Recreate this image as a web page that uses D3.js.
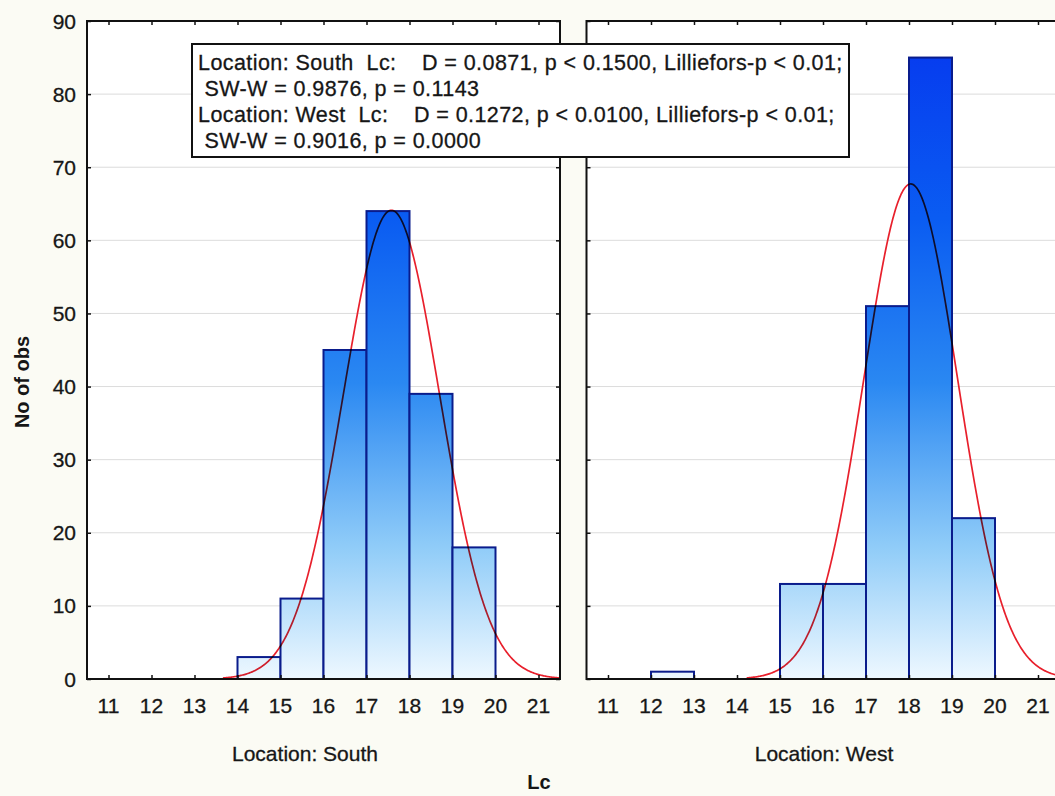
<!DOCTYPE html>
<html>
<head>
<meta charset="utf-8">
<script src="https://cdn.jsdelivr.net/npm/d3@7"></script>
<style>
  html, body { margin: 0; padding: 0; background: #fbfbf4; }
  svg { display: block; }
  text { font-family: "Liberation Sans", Arial, sans-serif; fill: #161616; }
  text.reg { stroke: #161616; stroke-width: 0.3; }
</style>
</head>
<body>
<svg id="chart" width="1055" height="796"></svg>
<script>
// Histogram bins (lower edge of each 1-unit Lc class)
const binStarts = [11, 12, 13, 14, 15, 16, 17, 18, 19, 20];
const southCounts = [0, 0, 0, 3, 11, 45, 64, 39, 18, 0];
const westCounts  = [0, 1, 0, 0, 13, 13, 51, 85, 22, 0];

// Fitted normal curves: mean, standard deviation, number of observations
const fitMean = [17.58, 18.04];
const fitSd   = [1.12, 1.09];
const fitN    = [180, 185];

const panelNames = ["Location: South", "Location: West"];
const xTicks = [11, 12, 13, 14, 15, 16, 17, 18, 19, 20, 21];
const yTicks = [0, 10, 20, 30, 40, 50, 60, 70, 80, 90];

const statLines = [
  "Location: South  Lc:    D = 0.0871, p < 0.1500, Lilliefors-p < 0.01;",
  " SW-W = 0.9876, p = 0.1143",
  "Location: West  Lc:    D = 0.1272, p < 0.0100, Lilliefors-p < 0.01;",
  " SW-W = 0.9016, p = 0.0000"
];

const svg = d3.select("#chart");
const plotTop = 21, plotBottom = 679, panelW = 473;
const panelX = [87, 586.5];
const captionX = [305, 824];
const labelSize = 21;

const y = d3.scaleLinear().domain([0, 90]).range([plotBottom, plotTop]);

// vertical gradient shared by all bars (depends on height in the plot, not on the bar)
const defs = svg.append("defs");
const grad = defs.append("linearGradient")
  .attr("id", "barGrad").attr("gradientUnits", "userSpaceOnUse")
  .attr("x1", 0).attr("x2", 0).attr("y1", y(90)).attr("y2", y(0));
[[0, "#0636ee"], [0.3, "#0a5cf2"], [0.55, "#2a88f2"], [0.8, "#90ccf8"], [1, "#eef8ff"]]
  .forEach(([o, c]) => grad.append("stop").attr("offset", o).attr("stop-color", c));

const series = [southCounts, westCounts];

panelX.forEach((px, i) => {
  const x = d3.scaleLinear().domain([10.5, 21.5]).range([px, px + panelW]);
  const g = svg.append("g");

  defs.append("clipPath").attr("id", "clip" + i)
    .append("rect").attr("x", px).attr("y", plotTop).attr("width", panelW).attr("height", plotBottom - plotTop);

  // plot background
  g.append("rect").attr("x", px).attr("y", plotTop).attr("width", panelW).attr("height", plotBottom - plotTop)
    .attr("fill", "#ffffff");

  // horizontal grid
  g.append("g").selectAll("line").data(yTicks.filter(t => t > 0 && t < 90)).join("line")
    .attr("x1", px).attr("x2", px + panelW)
    .attr("y1", d => y(d)).attr("y2", d => y(d))
    .attr("stroke", "#dcdcdc").attr("stroke-width", 1);

  const inner = g.append("g").attr("clip-path", `url(#clip${i})`);

  // bars
  const bins = binStarts.map((b, k) => ({ x0: b, x1: b + 1, v: series[i][k] })).filter(d => d.v > 0);
  inner.selectAll("rect.bar").data(bins).join("rect")
    .attr("class", "bar")
    .attr("x", d => x(d.x0)).attr("width", d => x(d.x1) - x(d.x0))
    .attr("y", d => y(d.v)).attr("height", d => y(0) - y(d.v))
    .attr("fill", "url(#barGrad)")
    .attr("stroke", "#0a1c8c").attr("stroke-width", 2);

  // expected normal counts per unit-width class
  const m = fitMean[i], s = fitSd[i], n = fitN[i];
  const pdf = v => n / (s * Math.sqrt(2 * Math.PI)) * Math.exp(-((v - m) ** 2) / (2 * s * s));
  const xs = d3.range(m - 3.5 * s, m + 3.5 * s + 0.001, 0.02);
  inner.append("path")
    .datum(xs)
    .attr("d", d3.line().x(v => x(v)).y(v => y(pdf(v))))
    .attr("fill", "none").attr("stroke", "#e8202c").attr("stroke-width", 1.7)
    .style("mix-blend-mode", "multiply");

  // frame
  g.append("rect").attr("x", px).attr("y", plotTop).attr("width", panelW).attr("height", plotBottom - plotTop)
    .attr("fill", "none").attr("stroke", "#111").attr("stroke-width", 2);

  // inward ticks, bottom and top
  g.append("g").attr("transform", `translate(0,${plotBottom})`)
    .call(d3.axisBottom(x).tickValues(xTicks).tickSizeInner(-4).tickSizeOuter(0).tickFormat(""))
    .call(a => a.select(".domain").remove())
    .call(a => a.selectAll("line").attr("stroke", "#111").attr("stroke-width", 1.5));
  g.append("g").attr("transform", `translate(0,${plotTop})`)
    .call(d3.axisTop(x).tickValues(xTicks).tickSizeInner(-4).tickSizeOuter(0).tickFormat(""))
    .call(a => a.select(".domain").remove())
    .call(a => a.selectAll("line").attr("stroke", "#111").attr("stroke-width", 1.5));
  // inward ticks, left and right
  g.append("g").attr("transform", `translate(${px},0)`)
    .call(d3.axisLeft(y).tickValues(yTicks).tickSizeInner(-4).tickSizeOuter(0).tickFormat(""))
    .call(a => a.select(".domain").remove())
    .call(a => a.selectAll("line").attr("stroke", "#111").attr("stroke-width", 1.5));
  g.append("g").attr("transform", `translate(${px + panelW},0)`)
    .call(d3.axisRight(y).tickValues(yTicks).tickSizeInner(-4).tickSizeOuter(0).tickFormat(""))
    .call(a => a.select(".domain").remove())
    .call(a => a.selectAll("line").attr("stroke", "#111").attr("stroke-width", 1.5));

  // x tick labels
  g.append("g").selectAll("text").data(xTicks).join("text")
    .attr("class", "reg")
    .attr("x", d => x(d)).attr("y", 713)
    .attr("text-anchor", "middle").attr("font-size", labelSize)
    .text(d => d);

  // panel caption
  g.append("text").attr("class", "reg")
    .attr("x", captionX[i]).attr("y", 761)
    .attr("text-anchor", "middle").attr("font-size", labelSize)
    .text(panelNames[i]);
});

// y tick labels
svg.append("g").selectAll("text").data(yTicks).join("text")
  .attr("class", "reg")
  .attr("x", 76).attr("y", d => y(d) + 7.5)
  .attr("text-anchor", "end").attr("font-size", labelSize)
  .text(d => d);

// axis titles
svg.append("text")
  .attr("transform", "translate(29,382) rotate(-90)")
  .attr("text-anchor", "middle").attr("font-size", 20).attr("font-weight", "bold")
  .text("No of obs");
svg.append("text").attr("x", 539).attr("y", 789)
  .attr("text-anchor", "middle").attr("font-size", 20).attr("font-weight", "bold")
  .text("Lc");

// statistics box
const box = svg.append("g");
box.append("rect").attr("x", 192).attr("y", 44).attr("width", 657).attr("height", 113)
  .attr("fill", "#ffffff").attr("stroke", "#111").attr("stroke-width", 2);
box.selectAll("text").data(statLines).join("text")
  .attr("class", "reg")
  .attr("x", 198).attr("y", (d, k) => 69.5 + k * 26)
  .attr("font-size", 21.5)
  .attr("letter-spacing", 0.42)
  .style("white-space", "pre")
  .text(d => d);
</script>
</body>
</html>
